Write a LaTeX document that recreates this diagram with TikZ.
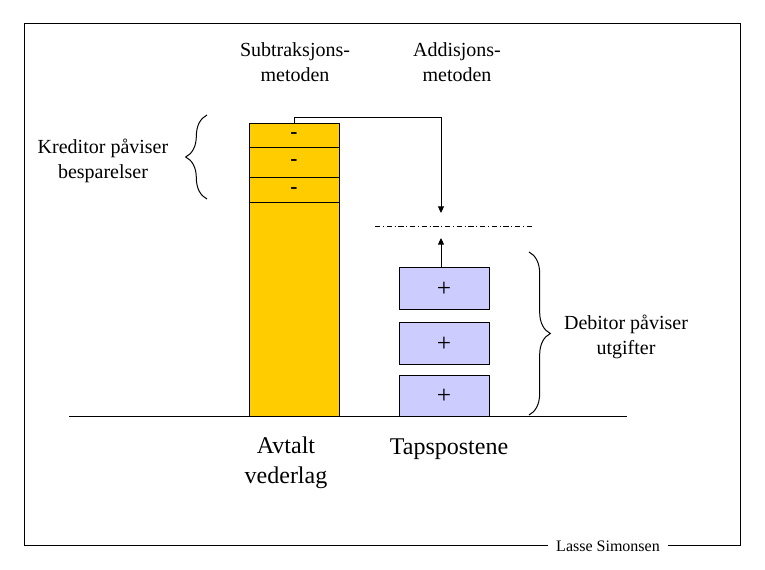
\documentclass[tikz,border=0pt]{standalone}
\usepackage{fontspec}
\setmainfont{Liberation Serif}
\usepackage{tikz}
\usetikzlibrary{positioning,arrows.meta,decorations.pathreplacing}
\definecolor{savgold}{RGB}{255,204,0}
\definecolor{costlilac}{RGB}{204,204,255}

\begin{document}
\begin{tikzpicture}[
  x=0.75pt,y=-0.75pt,line width=0.75pt,
  label/.style={align=center,inner sep=0pt,font=\fontsize{15}{18.75}\selectfont},
  biglabel/.style={align=center,inner sep=0pt,font=\fontsize{18}{22.5}\selectfont},
  savbox/.style={draw,fill=savgold,inner sep=0pt,minimum width=67.5pt,font=\fontsize{16}{18}\selectfont\bfseries},
  costbox/.style={draw,fill=costlilac,inner sep=0pt,minimum width=67.5pt,font=\fontsize{19}{20}\selectfont},
  flow/.style={-{Triangle[length=5pt,width=4.5pt]}},
  curly/.style={decorate,decoration={brace,amplitude=16pt}}
]
  \useasboundingbox (0,0) rectangle (765,570);
  \draw (24,24) rectangle (740,546);

  % orange column
  \node[savbox,minimum height=219.75pt] (col) at (294,270.5) {};
  \node[savbox,minimum height=18pt] (sav1) at (294,136) {-};
  \node[savbox,minimum height=22.5pt] (sav2) at (294,163) {-};
  \node[savbox,minimum height=18.75pt] (sav3) at (294,190.5) {-};

  % lilac boxes
  \node[costbox,minimum height=31.5pt] (cost1) at (444,289) {+};
  \node[costbox,minimum height=31.5pt,below=9pt of cost1] (cost2) {+};
  \node[costbox,minimum height=30.75pt] (cost3) at (444,396.5) {+};

  \draw (69,417) -- (627,417);

  \coordinate (drop) at (441,213);
  \coordinate (rise) at (441,238);
  \draw[flow] (sav1.north) -- ++(0,-6) -| (drop);
  \draw[flow] (cost1.north -| rise) -- (rise);
  \draw[dash pattern=on 4pt off 2pt on 0.75pt off 2pt] (375,227) -- (532,227);

  % braces
  \draw[curly] (207,199) -- (207,115);
  \draw[curly] (529,252) -- (529,415);

  \node[label] (subtr) at (295,62) {Subtraksjons-\\metoden};
  \node[label] (addis) at (457,62) {Addisjons-\\metoden};
  \node[label] (kreditor) at (103,161) {Kreditor påviser\\besparelser};
  \node[label] (debitor) at (626,337) {Debitor påviser\\utgifter};
  \node[biglabel] (avtalt) at (286,463) {Avtalt\\vederlag};
  \node[biglabel] (taps) at (449,449) {Tapspostene};
  \node[fill=white,inner xsep=6pt,inner ysep=2pt,font=\fontsize{12}{14}\selectfont] (sign) at (608,546) {Lasse Simonsen};
\end{tikzpicture}
\end{document}
